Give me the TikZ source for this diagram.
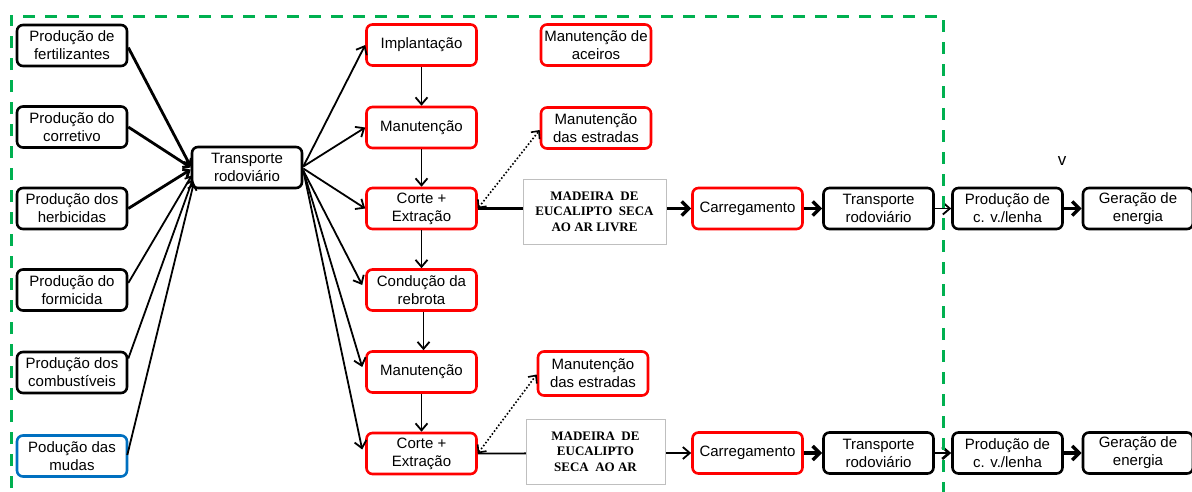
\documentclass[tikz,border=0pt]{standalone}
\usepackage{fontspec}
\setmainfont{Liberation Sans}
\newfontfamily\serifbold{Liberation Serif}
\usetikzlibrary{arrows.meta,calc}
\definecolor{gr}{RGB}{0,176,80}
\definecolor{rd}{RGB}{255,0,0}
\definecolor{bl}{RGB}{0,112,192}
\begin{document}
\begin{tikzpicture}[x=1pt,y=-1pt,
 box/.style={draw=black,line width=2.6pt,rounded corners=6pt,minimum width=110pt,minimum height=41pt,inner sep=0pt,align=center,font=\fontsize{15}{18}\selectfont,fill=white},
 rbox/.style={box,draw=rd},
 bbox/.style={box,draw=bl},
 mbox/.style={draw=black!25,line width=1pt,fill=white,minimum width=143pt,minimum height=65pt,inner sep=0pt,align=center,font=\serifbold\bfseries\fontsize{13}{15.5}\selectfont},
 arr/.style={line width=1.8pt,-{Straight Barb[length=7pt,width=12pt]}},
 tarr/.style={line width=3.5pt,-{Straight Barb[length=7pt,width=14pt]}},
 fanthick/.style={line width=2.8pt,-{Straight Barb[length=5pt,width=9pt]}},
 fanthin/.style={line width=1.8pt,-{Straight Barb[length=5pt,width=9pt]}},
 dots/.style={line width=1.6pt,dotted,{Straight Barb[length=6pt,width=11pt]}-{Straight Barb[length=6pt,width=11pt]}},
 frame/.style={draw=gr,line width=3pt,dash pattern=on 12pt off 10pt}
]
\useasboundingbox (0,0) rectangle (1192,491);

% left column
\node[box] (fert) at (72,45.5) {Produção de\\fertilizantes};
\node[box] (corr) at (72,127) {Produção do\\corretivo};
\node[box] (herb) at (72,208.5) {Produção dos\\herbicidas};
\node[box] (form) at (72,290) {Produção do\\formicida};
\node[box] (comb) at (72,372.5) {Produção dos\\combustíveis};
\node[bbox] (mud) at (72,456) {Podução das\\mudas};

\node[box] (tr1) at (247,167.5) {Transporte\\rodoviário};

% middle column
\node[rbox] (impl) at (421.5,45) {Implantação};
\node[rbox] (man1) at (421.5,127.5) {Manutenção};
\node[rbox] (cor1) at (421.5,208.5) {Corte +\\Extração};
\node[rbox] (cond) at (421.5,290) {Condução da\\rebrota};
\node[rbox] (man2) at (421.5,372) {Manutenção};
\node[rbox] (cor2) at (421.5,453.5) {Corte +\\Extração};

\node[rbox] (acei) at (596,45) {Manutenção de\\aceiros};
\node[rbox] (est1) at (596,128) {Manutenção\\das estradas};
\node[rbox,minimum height=44pt] (est2) at (593,373.5) {Manutenção\\das estradas};

% right rows
\node[rbox] (car1) at (747.5,208.5) {Carregamento};
\node[box] (tr2) at (878.5,208.5) {Transporte\\rodoviário};
\node[box] (prd1) at (1007.5,208.5) {Produção de\\c. v./lenha};
\node[box] (ger1) at (1138,208.5) {Geração de\\energia};

\node[rbox] (car2) at (747.5,453) {Carregamento};
\node[box] (tr3) at (878.5,453) {Transporte\\rodoviário};
\node[box] (prd2) at (1007.5,453) {Produção de\\c. v./lenha};
\node[box] (ger2) at (1138,453) {Geração de\\energia};

\node[font=\fontsize{17}{17}\selectfont,inner sep=0pt] (vmark) at (1062,161) {v};

% left fan
\draw[fanthick] ($(fert.east)+(0,2)$) -- ($(tr1.west)+(0,-1)$);
\draw[fanthick] (corr.east) -- ($(tr1.west)+(0,0)$);
\draw[fanthick] (herb.east) -- ($(tr1.west)+(0,2)$);
\draw[fanthin] ($(form.east)+(0,-7)$) -- ($(tr1.west)+(1,8)$);
\draw[fanthin] ($(comb.east)+(0,-14)$) -- ($(tr1.west)+(2,12)$);
\draw[fanthin] ($(mud.east)+(-1,-1)$) -- ($(tr1.west)+(3,16)$);

% right fan
\draw[arr] ($(tr1.east)+(0,-1)$) -- (impl.west);
\draw[arr] ($(tr1.east)+(0,-1)$) -- (man1.west);
\draw[arr] ($(tr1.east)+(0,1)$) -- (cor1.west);
\draw[arr] ($(tr1.east)+(0,3)$) -- ($(cond.west)+(-3,-5)$);
\draw[arr] ($(tr1.east)+(0,3)$) -- ($(man2.west)+(-3,-5)$);
\draw[arr] ($(tr1.east)+(0,3)$) -- ($(cor2.west)+(-3,-4)$);

% vertical chain
\draw[arr] (impl) -- (man1);
\draw[arr] (man1) -- (cor1);
\draw[arr] (cor1) -- (cond);
\draw[arr] ($(cond.south)+(2,0)$) -- ($(man2.north)+(2,0)$);
\draw[arr] (man2) -- (cor2);

% dotted
\draw[dots] (cor1.east) -- ($(est1.west)+(0,2)$);
\draw[dots] (cor2.east) -- ($(est2.west)+(0,1)$);

% rows
\draw[tarr] (cor1.east) -- (car1.west);
\draw[arr] (cor2.east) -- (car2.west);
\draw[tarr] (car1) -- (tr2);
\draw[arr] (tr2) -- (prd1);
\draw[tarr] (prd1) -- (ger1);
\draw[tarr] (car2) -- (tr3);
\draw[line width=2.6pt,-{Straight Barb[length=7pt,width=12pt]}] (tr3) -- (prd2);
\draw[tarr] (prd2) -- (ger2);

% wood boxes
\node[mbox] (mad1) at (594.5,211.5) {MADEIRA\ \ DE\\EUCALIPTO\ \ SECA\\AO AR LIVRE};
\node[mbox,minimum width=139pt] (mad2) at (595.5,451.5) {MADEIRA\ \ DE\\EUCALIPTO\\SECA\ \ AO AR};

% frame
\draw[frame] (11,510) -- (11,16) -- (943,16) -- (943,510);
\end{tikzpicture}
\end{document}
